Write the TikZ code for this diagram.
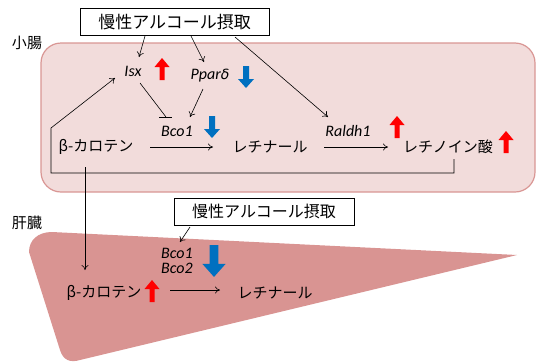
\documentclass[tikz,border=0pt]{standalone}
\usepackage{fontspec}
\setmainfont{Carlito}
\newfontfamily\jp{Noto Sans CJK JP}
\usetikzlibrary{arrows.meta}
\definecolor{pinkbg}{RGB}{242,220,219}
\definecolor{pinkedge}{RGB}{217,150,148}
\definecolor{liverc}{RGB}{217,148,146}
\definecolor{bluearr}{RGB}{0,112,192}
\tikzset{
  jtext/.style={font=\jp\fontsize{15}{17}\selectfont, inner sep=1pt},
  gene/.style={font=\itshape\fontsize{16}{17}\selectfont, inner sep=1pt},
  alcbox/.style={draw=black, line width=0.8pt, fill=white, font=\jp\fontsize{17}{19}\selectfont, inner sep=0pt, minimum height=27pt},
  conn/.style={-{To[length=5pt,width=7pt]}, line width=0.6pt},
  plain/.style={line width=0.6pt},
  upred/.pic={\fill[red] (-2.5,11) -- (-2.5,-2) -- (-7.5,-2) -- (0,-11) -- (7.5,-2) -- (2.5,-2) -- (2.5,11) -- cycle;},
  downblue/.pic={\fill[bluearr] (-3,-11) -- (-3,2) -- (-8,2) -- (0,11) -- (8,2) -- (3,2) -- (3,-11) -- cycle;},
}
\begin{document}
\begin{tikzpicture}[x=1pt,y=-1pt]
\useasboundingbox (0,0) rectangle (537,362);
% intestine region
\draw[fill=pinkbg, draw=pinkedge, line width=1.2pt, rounded corners=20pt] (41,43) rectangle (535,192);
% liver
\fill[liverc] (517,255) -- (52,232) .. controls (38,232) and (29,240) .. (29,252) -- (60,350) .. controls (63,360) and (70,363) .. (80,360) -- cycle;
% labels
\node[jtext] (shocho) at (27,43) {小腸};
\node[jtext] (kanzo) at (27,223) {肝臓};
% top alcohol box
\node[alcbox, minimum width=189pt] (alc1) at (174.5,22) {慢性アルコール摂取};
% genes intestine
\node[gene] (isx) at (133,71) {Isx};
\node[gene] (ppar) at (210,76) {Ppar\fontspec{DejaVu Sans}\itshape\fontsize{14}{16}\selectfont δ};
\node[gene] (bco1) at (177,131) {Bco1};
\node[gene] (raldh) at (348,131) {Raldh1};
\node[jtext] (bcar1) at (96,147) {β-カロテン};
\node[jtext] (ret1) at (270,147) {レチナール};
\node[jtext] (ra) at (448,147) {レチノイン酸};
% arrows
\pic at (162,69) {upred};
\pic at (246,77) {downblue};
\pic at (212,127) {downblue};
\pic at (397,127) {upred};
\pic at (506,142) {upred};
% connectors
\coordinate (a1s) at (145,36);
\coordinate (a1e) at (139,57);
\draw[conn] (a1s) -- (a1e);
\coordinate (a2s) at (191,36);
\coordinate (a2e) at (204,62);
\draw[conn] (a2s) -- (a2e);
\coordinate (a3s) at (235,37);
\coordinate (a3e) at (328,117);
\draw[conn] (a3s) -- (a3e);
\coordinate (isxin) at (140,83);
\coordinate (bco1t) at (166,117);
\coordinate (barl) at (159,117);
\coordinate (barr) at (172,117);
\draw[plain] (isxin) -- (bco1t);
\draw[plain] (barl) -- (barr);
\coordinate (pps) at (203,89);
\coordinate (ppe) at (190,117);
\draw[conn] (pps) -- (ppe);
\coordinate (c1s) at (150,147);
\coordinate (c1e) at (213,147);
\draw[conn] (c1s) -- (c1e);
\coordinate (c2s) at (324,147);
\coordinate (c2e) at (388,147);
\draw[conn] (c2s) -- (c2e);
% feedback
\coordinate (fb0) at (454,159);
\coordinate (fb1) at (454,173);
\coordinate (fb2) at (51,173);
\coordinate (fb3) at (51,128);
\coordinate (fb4) at (115,78);
\draw[conn] (fb0) -- (fb1) -- (fb2) -- (fb3) -- (fb4);
% to liver
\coordinate (dl0) at (85,167);
\coordinate (dl1) at (85,270);
\draw[conn] (dl0) -- (dl1);
% liver part
\node[alcbox, minimum width=180pt, minimum height=27pt, font=\jp\fontsize{16}{18}\selectfont] (alc2) at (264,211.5) {慢性アルコール摂取};
\coordinate (b2s) at (190,227);
\coordinate (b2e) at (180,242);
\draw[conn] (b2s) -- (b2e);
\node[gene, align=center] (bco12) at (177,261) {Bco1\\[-2pt]Bco2};
\node[jtext] (bcar2) at (104,293) {β-カロテン};
\node[jtext] (ret2) at (275,293) {レチナール};
\pic[scale=1.45] at (214,261) {downblue};
\pic at (152,291) {upred};
\coordinate (l1s) at (170,290);
\coordinate (l1e) at (220,290);
\draw[conn] (l1s) -- (l1e);
\end{tikzpicture}
\end{document}
